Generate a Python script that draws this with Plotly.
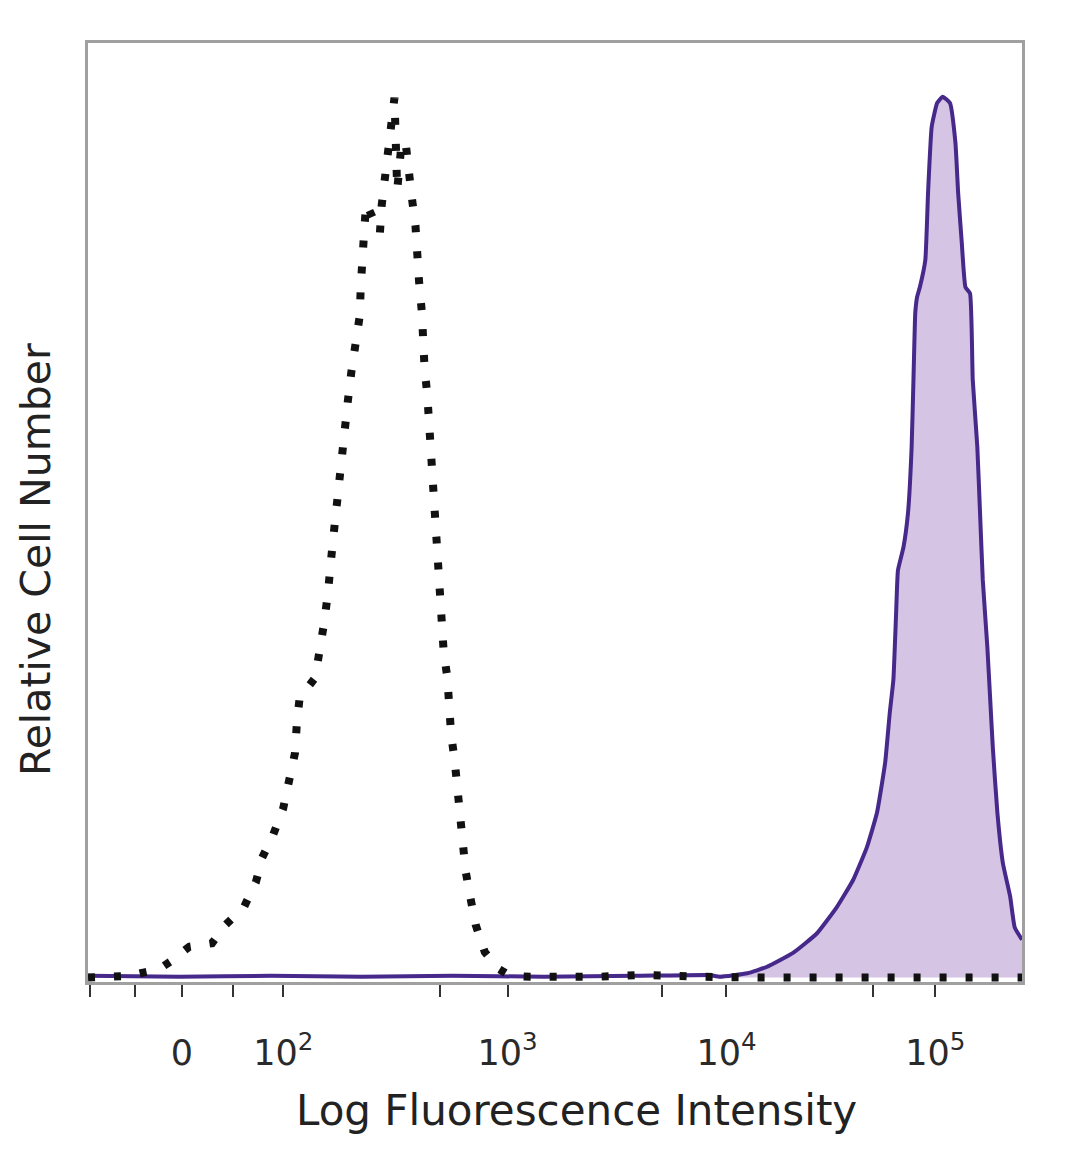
import plotly.graph_objects as go

# Histogram channels (0-1024 display scale) and relative cell counts
isotype_channel = [0, 24, 46, 62, 77, 90, 111, 136, 151, 171, 184, 191, 203, 214, 221, 227, 229, 232,
                   249, 254, 259, 263, 265, 268, 271, 274, 277, 282, 285, 289, 293, 298, 299, 302,
                   303, 305, 312, 320, 322, 326, 330, 333, 336, 339, 343, 348, 351, 355, 359, 362,
                   363, 366, 367, 369, 372, 374, 375, 378, 379, 383, 384, 386, 389, 390, 394, 395,
                   398, 402, 405, 407, 411, 414, 419, 425, 435, 450, 463, 485, 561, 605, 671, 737, 1024]
isotype_count = [0.0, 0.1, 0.2, 0.6, 0.9, 1.8, 3.5, 3.9, 6.0, 8.0, 10.8, 13.6, 16.2, 19.2, 22.2, 25.5, 28.9, 31.7,
                 34.0, 36.9, 40.3, 43.6, 47.0, 49.0, 51.9, 55.3, 58.7, 62.1, 65.5, 68.9, 72.0, 75.1, 78.3, 81.7,
                 85.0, 87.8, 86.1, 84.4, 87.6, 90.8, 94.1, 97.3, 99.8, 89.3, 93.8, 94.9, 91.4, 88.5, 85.3, 82.2,
                 78.9, 75.5, 72.1, 69.1, 66.1, 63.0, 59.6, 56.4, 53.1, 49.7, 46.4, 43.1, 40.3, 36.9, 34.0, 30.8,
                 27.7, 24.6, 21.3, 18.0, 14.6, 12.1, 9.2, 6.0, 2.9, 1.0, 0.2, 0.1, 0.1, 0.3, 0.1, 0.0, 0.0]

stained_channel = [0, 100, 200, 300, 400, 500, 600, 680, 693, 723, 744, 773, 799, 821, 839, 854, 865, 874,
                   879, 883, 886, 888, 894, 899, 903, 905, 907, 909, 912, 918, 921, 925, 931, 937, 945,
                   951, 954, 958, 962, 967, 970, 975, 978, 981, 986, 989, 992, 997, 1003, 1011, 1016, 1024]
stained_count = [0.2, 0.1, 0.2, 0.1, 0.2, 0.1, 0.2, 0.3, 0.1, 0.5, 1.2, 2.8, 5.0, 8.0, 11.1, 14.8, 18.7, 24.4,
                 30.0, 33.8, 41.4, 46.2, 48.8, 52.7, 60.2, 67.8, 75.4, 77.2, 78.3, 81.4, 89.0, 96.5, 99.2, 99.9, 99.2,
                 94.7, 89.0, 83.3, 78.3, 77.6, 67.8, 60.2, 52.7, 45.1, 37.5, 31.8, 26.1, 18.7, 13.0, 9.2, 5.7, 4.3]

# Axis ticks (channel positions on the biexponential display scale)
major_tick_channels = [103, 214, 460, 700, 929]
major_tick_labels = ["0", "10<sup>2</sup>", "10<sup>3</sup>", "10<sup>4</sup>", "10<sup>5</sup>"]
minor_tick_channels = [2, 52, 159, 386, 629, 861]

x_title = "Log Fluorescence Intensity"
y_title = "Relative Cell Number"

FONT = "DejaVu Sans"

fig = go.Figure()

fig.add_trace(go.Scatter(
    x=stained_channel, y=stained_count, mode="lines",
    line=dict(color="#46298a", width=4, shape="spline", smoothing=0.4),
    fill="tozeroy", fillcolor="#d6c4e5", hoverinfo="skip", showlegend=False,
))

fig.add_trace(go.Scatter(
    x=isotype_channel, y=isotype_count, mode="lines",
    line=dict(color="#111111", width=8, dash="7px,19px"),
    hoverinfo="skip", showlegend=False,
))

# The page body has an 8px margin, so the figure is sized to fit within the window.
fig.update_layout(
    width=1064, height=1153,
    margin=dict(l=80, r=50, t=35, b=179),
    paper_bgcolor="white", plot_bgcolor="white",
    font=dict(family=FONT, color="#222222"),
    xaxis=dict(
        range=[0, 1024], showgrid=False, zeroline=False,
        showline=True, linecolor="#a0a0a0", linewidth=3, mirror=True,
        tickmode="array", tickvals=major_tick_channels, ticktext=major_tick_labels,
        ticks="outside", ticklen=12, tickwidth=2, tickcolor="#333333",
        ticklabelstandoff=26,
        tickfont=dict(size=35, color="#2a2a2a", family=FONT),
        minor=dict(tickvals=minor_tick_channels, ticks="outside", ticklen=12,
                   tickwidth=2, tickcolor="#333333"),
    ),
    yaxis=dict(
        range=[-0.5, 106], showgrid=False, zeroline=False,
        showline=True, linecolor="#a0a0a0", linewidth=3, mirror=True,
        showticklabels=False, ticks="",
    ),
    annotations=[
        dict(text=x_title, xref="paper", yref="paper",
             x=(576 - 88) / 934, y=-(1110 - 982) / 939,
             xanchor="center", yanchor="middle", showarrow=False,
             font=dict(size=42, color="#222222", family=FONT)),
        dict(text=y_title, xref="paper", yref="paper",
             x=-(88 - 36) / 934, y=(982 - 560) / 939,
             xanchor="center", yanchor="middle", showarrow=False, textangle=-90,
             font=dict(size=41, color="#222222", family=FONT)),
    ],
)

fig.write_html("out.html", config={"displayModeBar": False})
